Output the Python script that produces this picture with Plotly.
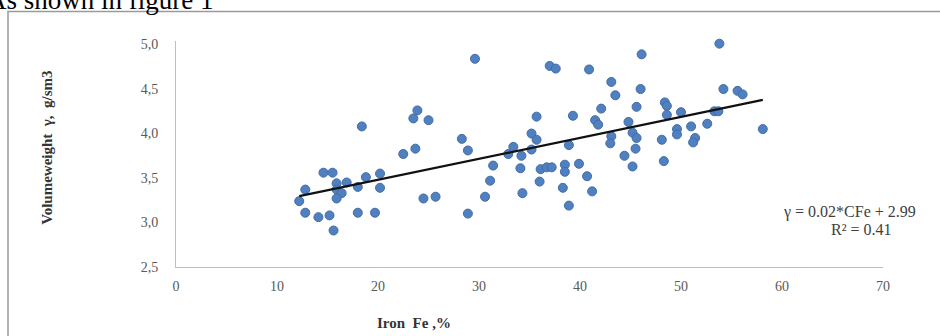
import numpy as np
import plotly.graph_objects as go

# Iron content Fe, % and volume weight (g/sm3)
fe = [12.2, 12.8, 12.8, 14.1, 15.2, 15.6, 14.6, 15.5, 15.9, 16.9, 15.9, 16.4, 15.9,
      18.0, 18.0, 18.8, 19.7, 20.2, 20.2, 18.4, 22.5, 23.7, 23.9, 23.5, 25.0, 24.5,
      25.7, 28.3, 28.9, 28.9, 29.6, 30.6, 31.1, 31.4, 32.9, 33.4, 34.2, 34.1, 34.3,
      35.2, 35.7, 35.2, 35.7, 36.0, 36.1, 36.7, 37.2, 37.0, 37.6, 38.5, 38.5, 38.3,
      38.9, 38.9, 39.3, 39.9, 40.7, 41.2, 40.9, 41.5, 41.8, 42.1, 43.1, 43.5, 43.1,
      43.0, 44.4, 44.8, 45.2, 45.6, 45.5, 45.2, 45.6, 46.1, 46.0, 48.4, 48.6, 48.6,
      48.1, 48.3, 49.6, 49.6, 50.0, 51.0, 51.4, 51.2, 52.6, 53.3, 53.7, 53.8, 54.2,
      55.6, 56.1, 58.1]
vw = [3.24, 3.37, 3.11, 3.06, 3.08, 2.91, 3.56, 3.56, 3.44, 3.45, 3.37, 3.33, 3.27,
      3.40, 3.11, 3.51, 3.11, 3.55, 3.39, 4.08, 3.77, 3.83, 4.26, 4.17, 4.15, 3.27,
      3.29, 3.94, 3.81, 3.10, 4.84, 3.29, 3.47, 3.64, 3.77, 3.85, 3.75, 3.61, 3.33,
      4.00, 3.93, 3.82, 4.19, 3.46, 3.60, 3.62, 3.62, 4.76, 4.73, 3.65, 3.57, 3.39,
      3.19, 3.87, 4.20, 3.66, 3.52, 3.35, 4.72, 4.15, 4.10, 4.28, 4.58, 4.43, 3.97,
      3.89, 3.75, 4.13, 4.01, 3.95, 3.83, 3.63, 4.30, 4.89, 4.50, 4.35, 4.31, 4.21,
      3.93, 3.69, 4.05, 3.99, 4.24, 4.08, 3.95, 3.90, 4.11, 4.25, 4.25, 5.01, 4.50,
      4.48, 4.44, 4.05]

x_ticks = [0, 10, 20, 30, 40, 50, 60, 70]
y_ticks = [2.5, 3.0, 3.5, 4.0, 4.5, 5.0]
y_tick_labels = ["2,5", "3,0", "3,5", "4,0", "4,5", "5,0"]

equation = "γ = 0.02*CFe + 2.99"
r2_text = "R² = 0.41"
caption = "As shown in figure 1"
x_title = "Iron  Fe ,%"
y_title = "Volumeweight  γ,  g/sm3"

# linear trend fitted on the data
slope, intercept = np.polyfit(fe, vw, 1)
tx = np.array([min(fe), max(fe)])
ty = slope * tx + intercept

W, H = 940, 336
Y0, Y1 = 2.5, 5.04
L, R, B = 176, 883, 267
unit = 222 / 2.5                      # pixels per y unit (2.5 -> 267, 5.0 -> 45)
T = B - (Y1 - Y0) * unit
pw, ph = R - L, B - T

def px(xp):
    return (xp - L) / pw

def py(yp):
    return (B - yp) / ph

serif = "Liberation Serif, Times New Roman, serif"

fig = go.Figure()
fig.add_trace(go.Scatter(
    x=fe, y=vw, mode="markers", cliponaxis=False,
    marker=dict(size=9, color="#5080BF", line=dict(color="#416DA8", width=1)),
    showlegend=False))
fig.add_trace(go.Scatter(
    x=tx, y=ty, mode="lines",
    line=dict(color="#111111", width=2.2),
    showlegend=False, hoverinfo="skip"))

fig.update_layout(
    width=W, height=H,
    margin=dict(l=L, r=W - R, t=T, b=H - B),
    paper_bgcolor="white", plot_bgcolor="white",
    font=dict(family=serif, size=14, color="#595959"),
    xaxis=dict(range=[0, 70], tickvals=x_ticks, ticktext=[str(v) for v in x_ticks],
               showgrid=False, zeroline=False, showline=True, linecolor="#BFBFBF",
               linewidth=1, ticks="", ticklabelstandoff=6,
               tickfont=dict(family=serif, size=14, color="#595959")),
    yaxis=dict(range=[Y0, Y1], tickvals=y_ticks, ticktext=y_tick_labels,
               showgrid=False, zeroline=False, showline=True, linecolor="#BFBFBF",
               linewidth=1, ticks="", ticklabelstandoff=14,
               tickfont=dict(family=serif, size=14, color="#595959")),
    shapes=[dict(type="rect", xref="paper", yref="paper",
                 x0=px(8), x1=px(960), y0=py(360), y1=py(12),
                 line=dict(color="#9A9A9A", width=1.5), fillcolor="rgba(0,0,0,0)",
                 layer="below")],
    annotations=[
        dict(text=caption, xref="paper", yref="paper", x=px(-15), y=py(17),
             xanchor="left", yanchor="bottom", showarrow=False,
             font=dict(family=serif, size=27, color="#000000")),
        dict(text="<b>" + x_title + "</b>", xref="paper", yref="paper",
             x=px(414), y=py(323), xanchor="center", yanchor="middle", showarrow=False,
             font=dict(family=serif, size=15, color="#333333")),
        dict(text="<b>" + y_title + "</b>", xref="paper", yref="paper",
             x=px(47), y=py(148), xanchor="center", yanchor="middle", textangle=-90,
             showarrow=False, font=dict(family=serif, size=15, color="#333333")),
        dict(text=equation, xref="paper", yref="paper", x=px(781), y=py(212),
             xanchor="left", yanchor="middle", showarrow=False,
             font=dict(family=serif, size=16, color="#404040")),
        dict(text=r2_text, xref="paper", yref="paper", x=px(861), y=py(230),
             xanchor="center", yanchor="middle", showarrow=False,
             font=dict(family=serif, size=16, color="#404040")),
    ],
)

fig.write_html("out.html")
